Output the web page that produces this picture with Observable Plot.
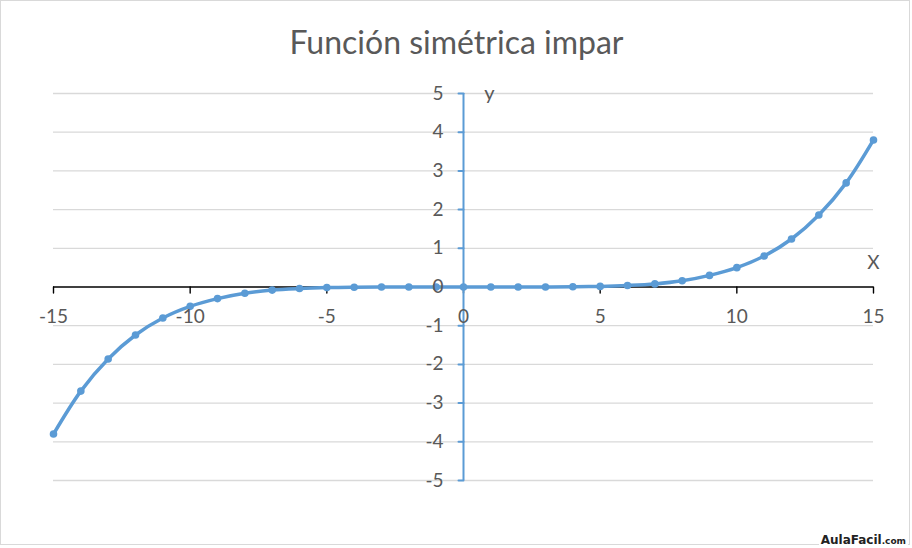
<!DOCTYPE html>
<html><head><meta charset="utf-8">
<script src="https://cdn.jsdelivr.net/npm/d3@7"></script>
<script src="https://cdn.jsdelivr.net/npm/@observablehq/plot@0.6"></script>
<style>
body{margin:0;background:#fff;}
#wrap{position:relative;width:912px;height:548px;overflow:hidden;}
#border{position:absolute;left:0;top:0;width:908px;height:543px;border:1px solid #d9d9d9;pointer-events:none;}
#brand{position:absolute;right:4px;bottom:0px;background:#fff;font-family:"DejaVu Sans";font-weight:bold;font-size:12px;color:#222;padding:0 2px;line-height:14px;}
</style></head><body>
<div id="wrap"><div id="border"></div><div id="brand">AulaFacil<span style="font-size:9px">.com</span></div></div>
<script>
const title = "Función simétrica impar";
const xValues = [-15,-14,-13,-12,-11,-10,-9,-8,-7,-6,-5,-4,-3,-2,-1,0,1,2,3,4,5,6,7,8,9,10,11,12,13,14,15];
const yValues = [-3.8,-2.69,-1.86,-1.24,-0.8,-0.5,-0.3,-0.16,-0.08,-0.04,-0.016,-0.005,-0.001,0,0,0,0,0,0.001,0.005,0.016,0.04,0.08,0.16,0.3,0.5,0.8,1.24,1.86,2.69,3.8];
const xTicks = [-15,-10,-5,0,5,10,15];
const yTicks = [-5,-4,-3,-2,-1,0,1,2,3,4,5];
const xLabel = "X";
const yLabel = "y";

const data = xValues.map((x, i) => ({x, y: yValues[i]}));
const blue = "#5b9bd5";
const grey = "#595959";
const font = "Lato";
const tickShape = {draw(context, l) { context.moveTo(0, 0); context.lineTo(0, -l); }};

const chart = Plot.plot({
  width: 912,
  height: 548,
  marginLeft: 53,
  marginRight: 39,
  marginTop: 93,
  marginBottom: 68,
  style: {fontFamily: font, background: "transparent"},
  x: {domain: [d3.min(xTicks), d3.max(xTicks)], axis: null},
  y: {domain: [d3.min(yTicks), d3.max(yTicks)], axis: null},
  marks: [
    Plot.ruleY(yTicks.filter(d => d !== 0), {stroke: "#d9d9d9", strokeWidth: 1.3}),
    Plot.ruleY([0], {stroke: "#000", strokeWidth: 1.4}),
    Plot.vector(xTicks, {x: d => d, y: () => 0, length: 6, rotate: 180, anchor: "start", shape: tickShape, stroke: "#000", strokeWidth: 1.4}),
    Plot.ruleX([0], {stroke: blue, strokeWidth: 2}),
    Plot.vector(yTicks, {x: () => 0, y: d => d, length: 5, rotate: -90, anchor: "start", shape: tickShape, stroke: blue, strokeWidth: 2}),
    Plot.line(data, {x: "x", y: "y", stroke: blue, strokeWidth: 3.5, curve: "catmull-rom"}),
    Plot.dot(data, {x: "x", y: "y", r: 3.8, fill: blue, stroke: "none"}),
    Plot.text(xTicks, {x: d => d, y: () => 0, text: d => String(d), dy: 30, fill: grey, fontSize: 19}),
    Plot.text(yTicks, {x: () => 0, y: d => d, text: d => String(d), dx: -20, textAnchor: "end", fill: grey, fontSize: 19}),
    Plot.text([yLabel], {x: () => 0, y: () => d3.max(yTicks), text: d => d, dx: 26, dy: 0, fill: grey, fontSize: 20}),
    Plot.text([xLabel], {x: () => d3.max(xTicks), y: () => 0, text: d => d, dy: -24, fill: grey, fontSize: 19}),
    Plot.text([title], {frameAnchor: "top", lineAnchor: "middle", textAnchor: "middle", text: d => d, dx: -7, dy: -50, fill: grey, fontSize: 32})
  ]
});
document.getElementById("wrap").prepend(chart);
</script>
</body></html>
